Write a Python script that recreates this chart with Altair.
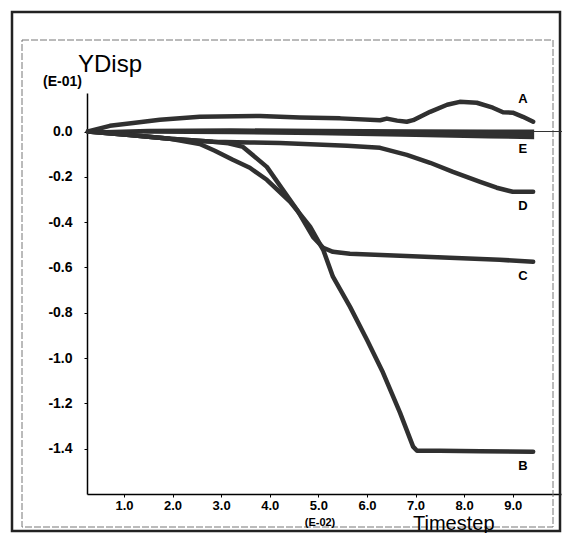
import altair as alt
import pandas as pd

# ---- data (Timestep in E-02, YDisp in E-01) ----
A_x = [0.26, 0.71, 1.19, 1.74, 2.56, 3.80, 4.62, 5.45, 6.27, 6.41, 6.62, 6.82, 6.95, 7.30, 7.65, 7.91, 8.26, 8.59, 8.80, 9.00, 9.21, 9.42]
A_y = [0.0, 0.025, 0.038, 0.052, 0.065, 0.069, 0.062, 0.058, 0.050, 0.057, 0.048, 0.043, 0.050, 0.087, 0.118, 0.131, 0.127, 0.105, 0.085, 0.083, 0.065, 0.043]

B_x = [0.26, 1.12, 1.95, 2.56, 2.87, 3.24, 3.59, 3.94, 4.42, 4.83, 5.10, 5.30, 5.65, 6.00, 6.33, 6.68, 6.95, 7.03, 7.50, 8.33, 9.42]
B_y = [0.0, -0.015, -0.032, -0.055, -0.085, -0.125, -0.160, -0.213, -0.310, -0.420, -0.522, -0.641, -0.773, -0.919, -1.064, -1.241, -1.391, -1.409, -1.409, -1.411, -1.413]

C_x = [0.26, 1.12, 1.95, 2.83, 3.15, 3.45, 3.94, 4.27, 4.56, 4.89, 5.10, 5.30, 5.65, 6.68, 7.70, 8.73, 9.42]
C_y = [0.0, -0.015, -0.032, -0.045, -0.052, -0.068, -0.156, -0.257, -0.345, -0.465, -0.513, -0.531, -0.540, -0.548, -0.557, -0.566, -0.575]

D_x = [0.26, 1.12, 1.95, 2.83, 3.59, 4.21, 5.59, 6.27, 6.82, 7.30, 7.77, 8.33, 8.67, 9.00, 9.42]
D_y = [0.0, -0.015, -0.032, -0.045, -0.048, -0.051, -0.063, -0.072, -0.103, -0.138, -0.178, -0.222, -0.248, -0.266, -0.266]

E_x = [0.26, 1.5, 3.2, 5.0, 7.0, 8.5, 9.42]
E_hi = [0.0, 0.008, 0.010, 0.008, 0.006, 0.004, 0.004]
E_lo = [0.0, -0.006, -0.008, -0.012, -0.020, -0.026, -0.030]

label_names = ["A", "B", "C", "D", "E"]
label_x = [9.21, 9.21, 9.21, 9.21, 9.21]
label_y = [0.144, -1.475, -0.637, -0.329, -0.077]

x_ticks = [1, 2, 3, 4, 5, 6, 7, 8, 9]
y_ticks = [0.0, -0.2, -0.4, -0.6, -0.8, -1.0, -1.2, -1.4]

X_DOMAIN = [0.24, 9.993]
Y_DOMAIN = [-1.6, 0.17]

# ---- tables ----
rows = []
for name, xs_, ys_ in [("A", A_x, A_y), ("B", B_x, B_y), ("C", C_x, C_y), ("D", D_x, D_y)]:
    for i, (a, b) in enumerate(zip(xs_, ys_)):
        rows.append({"series": name, "t": a, "d": b, "order": i})
curves = pd.DataFrame(rows)
e_df = pd.DataFrame({"t": E_x, "hi": E_hi, "lo": E_lo})
lab_df = pd.DataFrame({"name": label_names, "t": label_x, "d": label_y})
one = pd.DataFrame({"k": [0]})

INK = "#303030"
FONT = "Liberation Sans"

xs = alt.Scale(domain=X_DOMAIN, nice=False, zero=False)
ys = alt.Scale(domain=Y_DOMAIN, nice=False, zero=False)

x_axis = alt.Axis(values=x_ticks, format=".1f", title=None, grid=False,
                  domainColor="black", domainWidth=1.5, tickColor="black", tickSize=3,
                  labelFont=FONT, labelFontWeight="bold", labelFontSize=13,
                  labelColor="black", labelPadding=2)
y_axis = alt.Axis(values=y_ticks, title=None, grid=False,
                  labelExpr="datum.value < 0 ? '-' + format(-datum.value, '.1f') : format(datum.value, '.1f')",
                  domainColor="black", domainWidth=1.5, tickColor="black", tickSize=3,
                  labelFont=FONT, labelFontWeight="bold", labelFontSize=14,
                  labelColor="black", labelPadding=12)

lines = alt.Chart(curves).mark_line(color=INK, strokeWidth=4.5, strokeCap="round", strokeJoin="round").encode(
    x=alt.X("t:Q", scale=xs, axis=x_axis),
    y=alt.Y("d:Q", scale=ys, axis=y_axis),
    detail="series:N",
    order="order:Q",
)

band = alt.Chart(e_df).mark_area(color=INK, stroke=INK, strokeWidth=2).encode(
    x=alt.X("t:Q", scale=xs, axis=x_axis),
    y=alt.Y("hi:Q", scale=ys, axis=y_axis),
    y2="lo:Q",
)

labels = alt.Chart(lab_df).mark_text(font=FONT, fontWeight="bold", fontSize=13, color="black",
                                     align="center", baseline="middle").encode(
    x=alt.X("t:Q", scale=xs, axis=x_axis),
    y=alt.Y("d:Q", scale=ys, axis=y_axis),
    text="name:N",
)

outer = alt.Chart(one).mark_rect(fillOpacity=0, stroke="#222222", strokeWidth=2.5).encode(
    x=alt.value(-75), x2=alt.value(473), y=alt.value(-81), y2=alt.value(438))
inner = alt.Chart(one).mark_rect(fillOpacity=0, stroke="#777777", strokeWidth=1, strokeDash=[7, 2]).encode(
    x=alt.value(-65), x2=alt.value(466), y=alt.value(-53), y2=alt.value(434))
stub = alt.Chart(one).mark_rule(color="#333333", strokeWidth=1).encode(
    x=alt.value(446), x2=alt.value(475), y=alt.value(38.5))

ytitle = alt.Chart(one).mark_text(text="YDisp", font=FONT, fontSize=24, color="black",
                                  align="left", baseline="alphabetic").encode(
    x=alt.value(-9), y=alt.value(-21))
yexp = alt.Chart(one).mark_text(text="(E-01)", font=FONT, fontSize=14, fontWeight="bold", color="black",
                                align="left", baseline="alphabetic").encode(
    x=alt.value(-44), y=alt.value(-7))
xtitle = alt.Chart(one).mark_text(text="Timestep", font=FONT, fontSize=20, color="black",
                                  align="left", baseline="alphabetic").encode(
    x=alt.value(326), y=alt.value(437))
xexp = alt.Chart(one).mark_text(text="(E-02)", font=FONT, fontSize=11, fontWeight="bold", color="black",
                                align="center", baseline="middle").encode(
    x=alt.value(233), y=alt.value(430))

chart = alt.layer(outer, inner, stub, band, lines, labels, ytitle, yexp, xtitle, xexp).properties(
    width=474, height=401,
    padding={"left": 79, "top": 85, "right": 1, "bottom": 39},
    autosize=alt.AutoSizeParams(type="none"),
    background="white",
).configure_view(stroke=None)

chart.save("out.html", embed_options={"renderer": "svg", "actions": False})
